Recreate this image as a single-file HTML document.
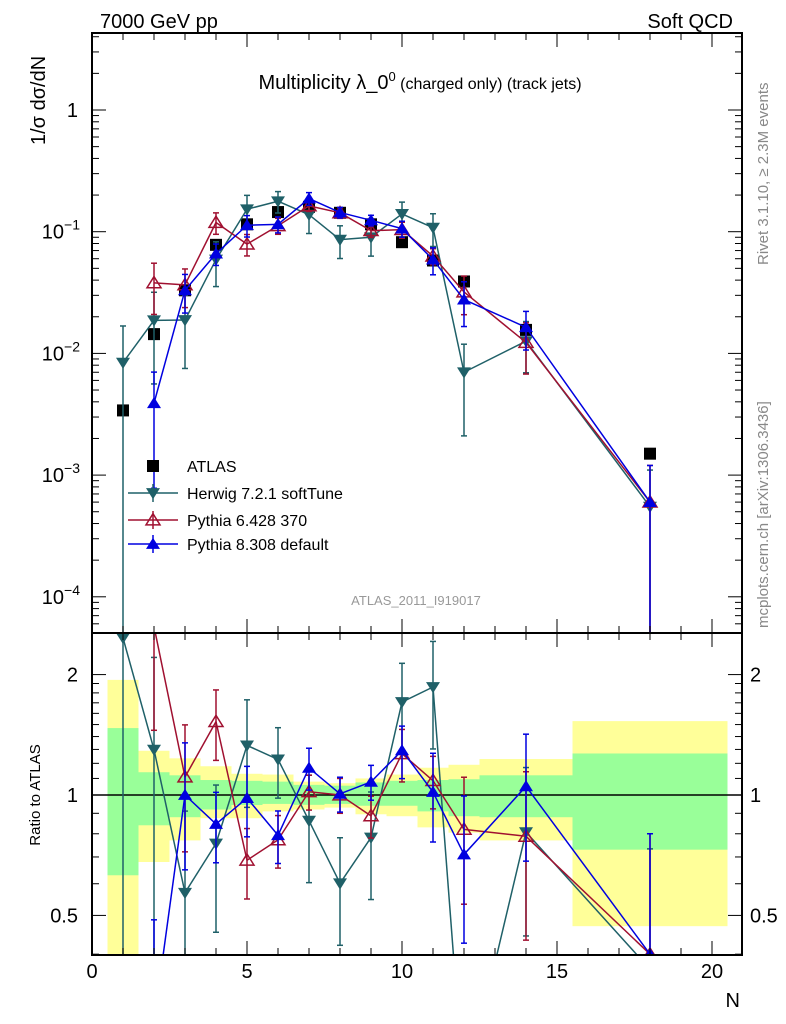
<!DOCTYPE html>
<html><head><meta charset="utf-8"><style>
html,body{margin:0;padding:0;background:#fff;width:786px;height:1024px;overflow:hidden}
svg{display:block;font-family:"Liberation Sans","DejaVu Sans",sans-serif}
</style></head><body>
<svg id="chart" width="786" height="1024" viewBox="0 0 786 1024" xmlns="http://www.w3.org/2000/svg">
<g id="bands"></g>
<g id="marks"></g>
<g id="axes"></g>
<text x="100" y="28" font-size="20">7000 GeV pp</text>
<text x="733" y="28" font-size="20" text-anchor="end">Soft QCD</text>
<text x="420" y="89" font-size="20" text-anchor="middle">Multiplicity λ_0<tspan dy="-8" font-size="13">0</tspan><tspan dy="8" font-size="16"> (charged only) (track jets)</tspan></text>
<text transform="translate(45,145) rotate(-90)" font-size="20">1/σ dσ/dN</text>
<text transform="translate(40,795) rotate(-90)" font-size="15" text-anchor="middle">Ratio to ATLAS</text>
<text x="740" y="1007" font-size="20" text-anchor="end">N</text>
<text transform="translate(768,265) rotate(-90)" font-size="15" fill="#888">Rivet 3.1.10, ≥ 2.3M events</text>
<text transform="translate(768,628) rotate(-90)" font-size="15" fill="#888">mcplots.cern.ch [arXiv:1306.3436]</text>
<text x="416" y="605" font-size="13" fill="#999" text-anchor="middle">ATLAS_2011_I919017</text>
<g id="legend"></g>
</svg>
<script>
const xs=[1,2,3,4,5,6,7,8,9,10,11,12,14,18];
const atlas=[0.0034,0.0144,0.033,0.078,0.115,0.145,0.16,0.143,0.115,0.082,0.058,0.039,0.0156,0.0015];
const herwig=[0.0084,0.0187,0.0188,0.059,0.153,0.178,0.138,0.086,0.09,0.14,0.108,0.007,0.0126,0.00055];
const herwigErr=[1,0.7,0.6,0.4,0.3,0.2,0.3,0.3,0.3,0.25,0.3,0.7,0.45,1];
const py6=[null,0.038,0.0366,0.119,0.079,0.112,0.163,0.143,0.102,0.104,0.063,0.032,0.0123,0.0006];
const py6Err=[0,0.45,0.35,0.2,0.2,0.15,0.1,0.1,0.12,0.15,0.15,0.35,0.45,1];
const py8=[null,0.0039,0.033,0.066,0.113,0.115,0.187,0.144,0.124,0.106,0.059,0.0277,0.0164,0.0006];
const py8Err=[0,0.8,0.35,0.2,0.2,0.15,0.12,0.1,0.1,0.15,0.25,0.4,0.35,1];
const binLo=[0.5,1.5,2.5,3.5,4.5,5.5,6.5,7.5,8.5,9.5,10.5,11.5,12.5,15.5];
const binHi=[1.5,2.5,3.5,4.5,5.5,6.5,7.5,8.5,9.5,10.5,11.5,12.5,15.5,20.5];
const yelHi=[1.94,1.29,1.235,1.18,1.13,1.125,1.08,1.07,1.10,1.125,1.17,1.19,1.23,1.53];
const yelLo=[0.33,0.68,0.77,0.875,0.875,0.91,0.92,0.93,0.895,0.885,0.83,0.805,0.77,0.47];
const grnHi=[1.47,1.14,1.12,1.09,1.085,1.08,1.06,1.055,1.075,1.085,1.09,1.095,1.12,1.27];
const grnLo=[0.63,0.84,0.88,0.92,0.944,0.95,0.945,0.95,0.94,0.94,0.91,0.885,0.88,0.73];

const NS="http://www.w3.org/2000/svg";
const L=92,R=742,T=33,MB=633,RB=955;
const X=v=>L+v*31.0;
const Y=v=>110-Math.log10(v)*121.7;
const RY=v=>795-Math.log10(v)*400;
function mk(tag,at,parent){const e=document.createElementNS(NS,tag);for(const k in at)e.setAttribute(k,at[k]);parent.appendChild(e);return e;}
const bands=document.getElementById('bands'),marks=document.getElementById('marks'),axes=document.getElementById('axes'),leg=document.getElementById('legend');
const cl=v=>Math.max(Math.min(v,RB),MB);
for(let i=0;i<binLo.length;i++){
 let r=mk('rect',{x:X(binLo[i]),width:X(binHi[i])-X(binLo[i]),y:cl(RY(yelHi[i])),height:cl(RY(yelLo[i]))-cl(RY(yelHi[i])),fill:'#ffff99'},bands);
 
 
 let g=mk('rect',{x:X(binLo[i]),width:X(binHi[i])-X(binLo[i]),y:cl(RY(grnHi[i])),height:cl(RY(grnLo[i]))-cl(RY(grnHi[i])),fill:'#99ff99'},bands);
 
 
}
const rl=mk('line',{x1:L,x2:R,y1:RY(1),y2:RY(1),stroke:'#000','stroke-width':1.5},bands);


const defs=mk('defs',{},marks);
const c1=mk('clipPath',{id:'cm'},defs);mk('rect',{x:L,y:T,width:R-L,height:MB-T},c1);
const c2=mk('clipPath',{id:'cr'},defs);mk('rect',{x:L,y:MB,width:R-L,height:RB-MB},c2);
function marker(type,x,y,col,parent){
 let p;const s=7;
 if(type==='sq')p=mk('rect',{x:x-6,y:y-6,width:12,height:12,fill:'#000'},parent);
 else if(type==='down')p=mk('polygon',{points:`${x-s},${y-s*0.7} ${x+s},${y-s*0.7} ${x},${y+s*0.9}`,fill:col},parent);
 else if(type==='upOpen')p=mk('polygon',{points:`${x-s},${y+s*0.7} ${x+s},${y+s*0.7} ${x},${y-s*0.9}`,fill:'none',stroke:col,'stroke-width':1.5},parent);
 else p=mk('polygon',{points:`${x-s},${y+s*0.7} ${x+s},${y+s*0.7} ${x},${y-s*0.9}`,fill:col},parent);
 return p;
}
function clipSeg(x1,y1,x2,y2,a,b){
 // clip segment to y in [a,b]
 let t0=0,t1=1;const dy=y2-y1;
 if(dy!==0){
  let ta=(a-y1)/dy,tb=(b-y1)/dy;
  let lo=Math.min(ta,tb),hi=Math.max(ta,tb);
  t0=Math.max(t0,lo);t1=Math.min(t1,hi);
 } else if(y1<a||y1>b) return null;
 if(t0>t1) return null;
 return [x1+(x2-x1)*t0,y1+dy*t0,x1+(x2-x1)*t1,y1+dy*t1];
}
function series(name,vals,errs,col,type,ratio){
 const fy=ratio?RY:Y;
 const top=ratio?MB:T, bot=ratio?RB:MB;
 const lim=v=>Math.max(top-5,Math.min(bot+5,v));
 const g=mk('g',{'clip-path':ratio?'url(#cr)':'url(#cm)'},marks);
 
 
 const pts=[];
 xs.forEach((x,i)=>{const v=vals[i];if(v==null)return;const val=ratio?v/atlas[i]:v;pts.push([X(x),fy(val),val,errs[i]]);});
 for(let k=0;k+1<pts.length;k++){
  const s=clipSeg(pts[k][0],pts[k][1],pts[k+1][0],pts[k+1][1],top-5,bot+5);
  if(!s)continue;
  const ln=mk('line',{x1:s[0],y1:s[1],x2:s[2],y2:s[3],stroke:col,'stroke-width':1.5},g);
  
  
 }
 pts.forEach(p=>{
  const hi=lim(fy(p[2]*(1+p[3]))),lo=p[3]>=1?bot+5:lim(fy(p[2]*(1-p[3])));
  mk('line',{x1:p[0],x2:p[0],y1:hi,y2:lo,stroke:col,'stroke-width':1.5},g);
  mk('line',{x1:p[0]-3,x2:p[0]+3,y1:hi,y2:hi,stroke:col,'stroke-width':1.5},g);
  mk('line',{x1:p[0]-3,x2:p[0]+3,y1:lo,y2:lo,stroke:col,'stroke-width':1.5},g);
  if(p[1]<top-10||p[1]>bot+10)return;
  const m=marker(type,p[0],p[1],col,g);
  
  
 });
}
const ag=mk('g',{'clip-path':'url(#cm)'},marks);


xs.forEach((x,i)=>{const m=marker('sq',X(x),Y(atlas[i]),'#000',ag);
 
 });
const HC='#1f6068',P6='#a01030',P8='#0000e0';
series('herwig',herwig,herwigErr,HC,'down',false);
series('pythia6',py6,py6Err,P6,'upOpen',false);
series('pythia8',py8,py8Err,P8,'up',false);
series('herwig',herwig,herwigErr,HC,'down',true);
series('pythia6',py6,py6Err,P6,'upOpen',true);
series('pythia8',py8,py8Err,P8,'up',true);
[[T,MB],[MB,RB]].forEach(([a,b],k)=>{const f=mk('rect',{x:L,y:a,width:R-L,height:b-a,fill:'none',stroke:'#000','stroke-width':2},axes);
 
 });
for(let v=0;v<=20;v++){const x=X(v),big=v%5===0,l=big?14:7;
 [T,MB].forEach(y=>mk('line',{x1:x,x2:x,y1:y,y2:y+l,stroke:'#000'},axes));
 [MB,RB].forEach(y=>mk('line',{x1:x,x2:x,y1:y,y2:y-l,stroke:'#000'},axes));
 if(big){const t=mk('text',{x:x,y:978,'font-size':20,'text-anchor':'middle'},axes);t.textContent=v;
 
 }
}
for(let e=-5;e<=0;e++)for(let m=1;m<10;m++){const v=m*Math.pow(10,e),y=Y(v);if(y<T||y>MB)continue;const l=m===1?14:7;
 mk('line',{x1:L,x2:L+l,y1:y,y2:y,stroke:'#000'},axes);mk('line',{x1:R,x2:R-l,y1:y,y2:y,stroke:'#000'},axes);}
const yl=[[0,'1'],[-1,'10'],[-2,'10'],[-3,'10'],[-4,'10']];
yl.forEach(([e,s])=>{const t=mk('text',{x:e===0?78:62,y:Y(Math.pow(10,e))+7,'font-size':20,'text-anchor':'end'},axes);
 
 
 if(e===0)t.textContent='1';else{t.textContent='10';const sp=document.createElementNS(NS,'tspan');sp.setAttribute('dy','-9');sp.setAttribute('font-size','14');sp.textContent='−'+(-e);t.appendChild(sp);t.setAttribute('x',58);t.setAttribute('text-anchor','end');t.setAttribute('transform','translate(22,0)');}
});
[0.4,0.5,0.6,0.7,0.8,0.9,1,2].forEach(v=>{const y=RY(v),l=(v===1||v===2||v===0.5)?14:7;
 mk('line',{x1:L,x2:L+l,y1:y,y2:y,stroke:'#000'},axes);mk('line',{x1:R,x2:R-l,y1:y,y2:y,stroke:'#000'},axes);});
[1.1,1.2,1.3,1.4,1.5,1.6,1.7,1.8,1.9].forEach(v=>{const y=RY(v);mk('line',{x1:L,x2:L+7,y1:y,y2:y,stroke:'#000'},axes);mk('line',{x1:R,x2:R-7,y1:y,y2:y,stroke:'#000'},axes);});
[[2,'2'],[1,'1'],[0.5,'0.5']].forEach(([v,s])=>{
 const a=mk('text',{x:78,y:RY(v)+7,'font-size':20,'text-anchor':'end'},axes);a.textContent=s;
 
 
 const b=mk('text',{x:750,y:RY(v)+7,'font-size':20},axes);b.textContent=s;
 
 });
const entries=[['ATLAS','sq','#000',466],['Herwig 7.2.1 softTune','down',HC,493],['Pythia 6.428 370','upOpen',P6,520],['Pythia 8.308 default','up',P8,544]];
entries.forEach(([lab,type,col,y])=>{
 const g=mk('g',{},leg);
 
 
 if(type!=='sq'){mk('line',{x1:128,x2:178,y1:y,y2:y,stroke:col,'stroke-width':1.5},g);mk('line',{x1:153,x2:153,y1:y-9,y2:y+9,stroke:col,'stroke-width':1.5},g);}
 marker(type,153,y,col,g);
 const t=mk('text',{x:187,y:y+6,'font-size':16},g);t.textContent=lab;
});
</script>
</body></html>
